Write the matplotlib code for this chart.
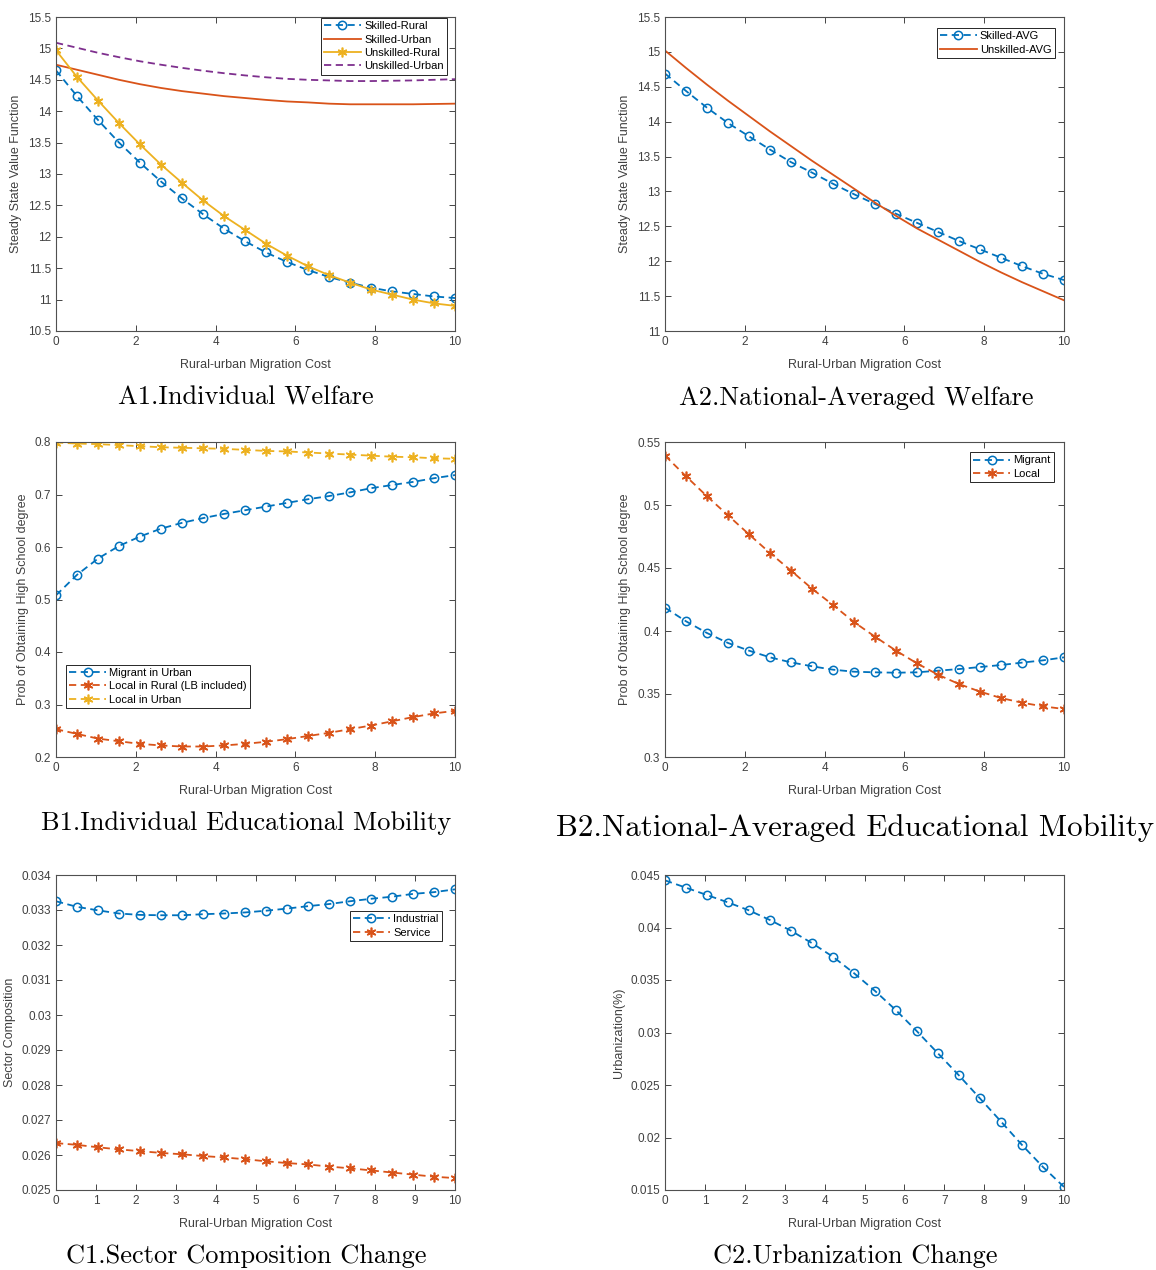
import numpy as np
import matplotlib
matplotlib.use("Agg")
import matplotlib.pyplot as plt
from matplotlib.ticker import FuncFormatter

# MATLAB default colours
blue = "#0072BD"
orange = "#D95319"
yellow = "#EDB120"
purple = "#7E2F8E"
axcol = "#262626"

plt.rcParams['font.family'] = ['Liberation Sans', 'DejaVu Sans']
plt.rcParams['lines.scale_dashes'] = True

# migration cost grid (20 points from 0 to 10)
cost = np.linspace(0, 10, 20)

# A1 individual welfare
skilled_rural = [14.65, 14.24, 13.86, 13.50, 13.18, 12.88, 12.61, 12.36, 12.13, 11.93,
                 11.75, 11.60, 11.47, 11.36, 11.27, 11.19, 11.13, 11.09, 11.05, 11.025]
skilled_urban = [14.74, 14.66, 14.58, 14.50, 14.43, 14.37, 14.32, 14.28, 14.24, 14.21,
                 14.18, 14.155, 14.14, 14.12, 14.11, 14.11, 14.11, 14.11, 14.115, 14.12]
unskilled_rural = [14.97, 14.545, 14.17, 13.81, 13.47, 13.15, 12.86, 12.58, 12.33, 12.11,
                   11.89, 11.70, 11.53, 11.39, 11.27, 11.16, 11.08, 11.00, 10.94, 10.90]
unskilled_urban = [15.09, 15.01, 14.93, 14.86, 14.795, 14.74, 14.69, 14.645, 14.605, 14.57,
                   14.54, 14.515, 14.50, 14.49, 14.48, 14.48, 14.485, 14.49, 14.50, 14.51]

# A2 national averaged welfare
skilled_avg = [14.69, 14.44, 14.20, 13.98, 13.79, 13.60, 13.42, 13.27, 13.11, 12.96,
               12.82, 12.68, 12.55, 12.42, 12.29, 12.17, 12.05, 11.93, 11.82, 11.73]
unskilled_avg = [15.02, 14.77, 14.53, 14.30, 14.08, 13.86, 13.65, 13.44, 13.24, 13.04,
                 12.84, 12.65, 12.47, 12.31, 12.15, 11.99, 11.84, 11.70, 11.57, 11.44]

# B1 individual educational mobility
migrant_urban = [0.508, 0.547, 0.578, 0.602, 0.620, 0.635, 0.646, 0.655, 0.663, 0.670,
                 0.677, 0.684, 0.691, 0.697, 0.704, 0.712, 0.718, 0.724, 0.731, 0.737]
local_rural = [0.253, 0.244, 0.235, 0.230, 0.225, 0.222, 0.220, 0.220, 0.222, 0.225,
               0.229, 0.234, 0.240, 0.246, 0.253, 0.260, 0.268, 0.276, 0.283, 0.288]
local_urban = [0.799, 0.797, 0.796, 0.794, 0.792, 0.790, 0.789, 0.788, 0.787, 0.785,
               0.783, 0.782, 0.780, 0.778, 0.776, 0.774, 0.772, 0.771, 0.769, 0.768]

# B2 national averaged educational mobility
migrant_avg = [0.4185, 0.4077, 0.3984, 0.3905, 0.3844, 0.3791, 0.3751, 0.3720, 0.3693, 0.3677,
               0.3672, 0.3669, 0.3672, 0.3685, 0.3698, 0.3714, 0.3730, 0.3749, 0.3767, 0.3791]
local_avg = [0.5392, 0.5228, 0.5069, 0.4918, 0.4767, 0.4619, 0.4479, 0.4336, 0.4206, 0.4071,
             0.3955, 0.3844, 0.3743, 0.3653, 0.3579, 0.3519, 0.3468, 0.3431, 0.3402, 0.3381]

# C1 sector composition
industrial = [0.03325, 0.03309, 0.03299, 0.03290, 0.03286, 0.03285, 0.03285, 0.03288, 0.03290, 0.03293,
              0.03298, 0.03304, 0.03311, 0.03317, 0.03325, 0.03332, 0.03338, 0.03346, 0.03351, 0.03359]
service = [0.02634, 0.02629, 0.02622, 0.02616, 0.02611, 0.02606, 0.02602, 0.02597, 0.02593, 0.02588,
           0.02582, 0.02577, 0.02573, 0.02567, 0.02562, 0.02556, 0.02550, 0.02544, 0.02538, 0.02534]

# C2 urbanization
urbanization = [0.04449, 0.04379, 0.04309, 0.04239, 0.04163, 0.04071, 0.03969, 0.03851, 0.03721, 0.03565,
                0.03396, 0.03212, 0.03011, 0.02801, 0.02591, 0.02372, 0.02152, 0.01929, 0.01719, 0.01529]

W, H = 1156, 1270
fig = plt.figure(figsize=(W / 100, H / 100), dpi=100)


def make_axes(left, top, right, bottom):
    ax = fig.add_axes([left / W, 1 - bottom / H, (right - left) / W, (bottom - top) / H])
    ax.tick_params(direction='in', top=True, right=True, length=4, width=0.6,
                   colors=axcol, labelsize=8.5, labelcolor='#404040')
    for s in ax.spines.values():
        s.set_color('#505050')
        s.set_linewidth(0.8)
    ax.yaxis.set_major_formatter(FuncFormatter(lambda v, p: '%g' % round(v, 6)))
    return ax


def legend(ax, **kw):
    leg = ax.legend(fontsize=8, fancybox=False, framealpha=1, edgecolor=axcol,
                    borderpad=0.3, labelspacing=0.3, handlelength=3.3,
                    handletextpad=0.3, borderaxespad=0, **kw)
    leg.get_frame().set_linewidth(0.7)
    return leg


dash = (4, 2.5)
ms_o = 6
ms_s = 7
ast = (6, 2, 0)
lab_kw = dict(fontsize=9, color='#404040', labelpad=8)
ylab_kw = dict(fontsize=9, color='#404040')

# A1
ax = make_axes(56, 17, 455, 331)
ax.plot(cost, skilled_rural, color=blue, ls='--', dashes=dash, lw=1.3, marker='o',
        mfc='none', ms=ms_o, mew=1.1, label='Skilled-Rural')
ax.plot(cost, skilled_urban, color=orange, lw=1.3, label='Skilled-Urban')
ax.plot(cost, unskilled_rural, color=yellow, lw=1.3, marker=ast, ms=ms_s, mew=1.2,
        label='Unskilled-Rural')
ax.plot(cost, unskilled_urban, color=purple, ls='--', dashes=dash, lw=1.3, label='Unskilled-Urban')
ax.set_xlim(0, 10)
ax.set_ylim(10.5, 15.5)
ax.set_xticks(np.arange(0, 11, 2))
ax.set_yticks(np.arange(10.5, 15.6, 0.5))
ax.set_xlabel('Rural-urban Migration Cost', **lab_kw)
ax.set_ylabel('Steady State Value Function', **ylab_kw)
legend(ax, loc='upper right', bbox_to_anchor=(0.98, 0.997))

# A2
ax = make_axes(665, 17, 1064, 331)
ax.plot(cost, skilled_avg, color=blue, ls='--', dashes=dash, lw=1.3, marker='o',
        mfc='none', ms=ms_o, mew=1.1, label='Skilled-AVG')
ax.plot(cost, unskilled_avg, color=orange, lw=1.3, label='Unskilled-AVG')
ax.set_xlim(0, 10)
ax.set_ylim(11, 15.5)
ax.set_xticks(np.arange(0, 11, 2))
ax.set_yticks(np.arange(11, 15.6, 0.5))
ax.set_xlabel('Rural-Urban Migration Cost', **lab_kw)
ax.set_ylabel('Steady State Value Function', **ylab_kw)
legend(ax, loc='upper right', bbox_to_anchor=(0.977, 0.965))

# B1
ax = make_axes(56, 442, 455, 757)
ax.plot(cost, migrant_urban, color=blue, ls='--', dashes=dash, lw=1.3, marker='o',
        mfc='none', ms=ms_o, mew=1.1, label='Migrant in Urban')
ax.plot(cost, local_rural, color=orange, ls='--', dashes=dash, lw=1.3, marker=ast,
        ms=ms_s, mew=1.2, label='Local in Rural (LB included)')
ax.plot(cost, local_urban, color=yellow, ls='--', dashes=dash, lw=1.3, marker=ast,
        ms=ms_s, mew=1.2, label='Local in Urban')
ax.set_xlim(0, 10)
ax.set_ylim(0.2, 0.8)
ax.set_xticks(np.arange(0, 11, 2))
ax.set_yticks(np.arange(0.2, 0.81, 0.1))
ax.set_xlabel('Rural-Urban Migration Cost', **lab_kw)
ax.set_ylabel('Prob of Obtaining High School degree', **ylab_kw)
legend(ax, loc='lower left', bbox_to_anchor=(0.025, 0.156))

# B2
ax = make_axes(665, 442, 1064, 757)
ax.plot(cost, migrant_avg, color=blue, ls='--', dashes=dash, lw=1.3, marker='o',
        mfc='none', ms=ms_o, mew=1.1, label='Migrant')
ax.plot(cost, local_avg, color=orange, ls='--', dashes=dash, lw=1.3, marker=ast,
        ms=ms_s, mew=1.2, label='Local')
ax.set_xlim(0, 10)
ax.set_ylim(0.3, 0.55)
ax.set_xticks(np.arange(0, 11, 2))
ax.set_yticks(np.arange(0.3, 0.551, 0.05))
ax.set_xlabel('Rural-Urban Migration Cost', **lab_kw)
ax.set_ylabel('Prob of Obtaining High School degree', **ylab_kw)
legend(ax, loc='upper right', bbox_to_anchor=(0.975, 0.968))

# C1
ax = make_axes(56, 875, 455, 1190)
ax.plot(cost, industrial, color=blue, ls='--', dashes=dash, lw=1.3, marker='o',
        mfc='none', ms=ms_o, mew=1.1, label='Industrial')
ax.plot(cost, service, color=orange, ls='--', dashes=dash, lw=1.3, marker=ast,
        ms=ms_s, mew=1.2, label='Service')
ax.set_xlim(0, 10)
ax.set_ylim(0.025, 0.034)
ax.set_xticks(np.arange(0, 11, 1))
ax.set_yticks(np.arange(0.025, 0.03401, 0.001))
ax.set_xlabel('Rural-Urban Migration Cost', **lab_kw)
ax.set_ylabel('Sector Composition', **ylab_kw)
legend(ax, loc='upper right', bbox_to_anchor=(0.967, 0.886))

# C2
ax = make_axes(665, 875, 1064, 1190)
ax.plot(cost, urbanization, color=blue, ls='--', dashes=dash, lw=1.3, marker='o',
        mfc='none', ms=ms_o, mew=1.1)
ax.set_xlim(0, 10)
ax.set_ylim(0.015, 0.045)
ax.set_xticks(np.arange(0, 11, 1))
ax.set_yticks(np.arange(0.015, 0.04501, 0.005))
ax.set_xlabel('Rural-Urban Migration Cost', **lab_kw)
ax.set_ylabel('Urbanization(%)', **ylab_kw)

# captions under each panel
cap = dict(family='cmr10', ha='center', va='center', color='black')
fig.text(246 / W, 1 - 398 / H, 'A1.Individual Welfare', fontsize=19, **cap)
fig.text(856 / W, 1 - 398 / H, 'A2.National-Averaged Welfare', fontsize=19, **cap)
fig.text(246 / W, 1 - 823 / H, 'B1.Individual Educational Mobility', fontsize=19, **cap)
fig.text(855 / W, 1 - 828 / H, 'B2.National-Averaged Educational Mobility', fontsize=22.3, **cap)
fig.text(246 / W, 1 - 1256 / H, 'C1.Sector Composition Change', fontsize=19, **cap)
fig.text(855 / W, 1 - 1256 / H, 'C2.Urbanization Change', fontsize=19, **cap)

fig.savefig('out.png', dpi=100)
plt.close(fig)
